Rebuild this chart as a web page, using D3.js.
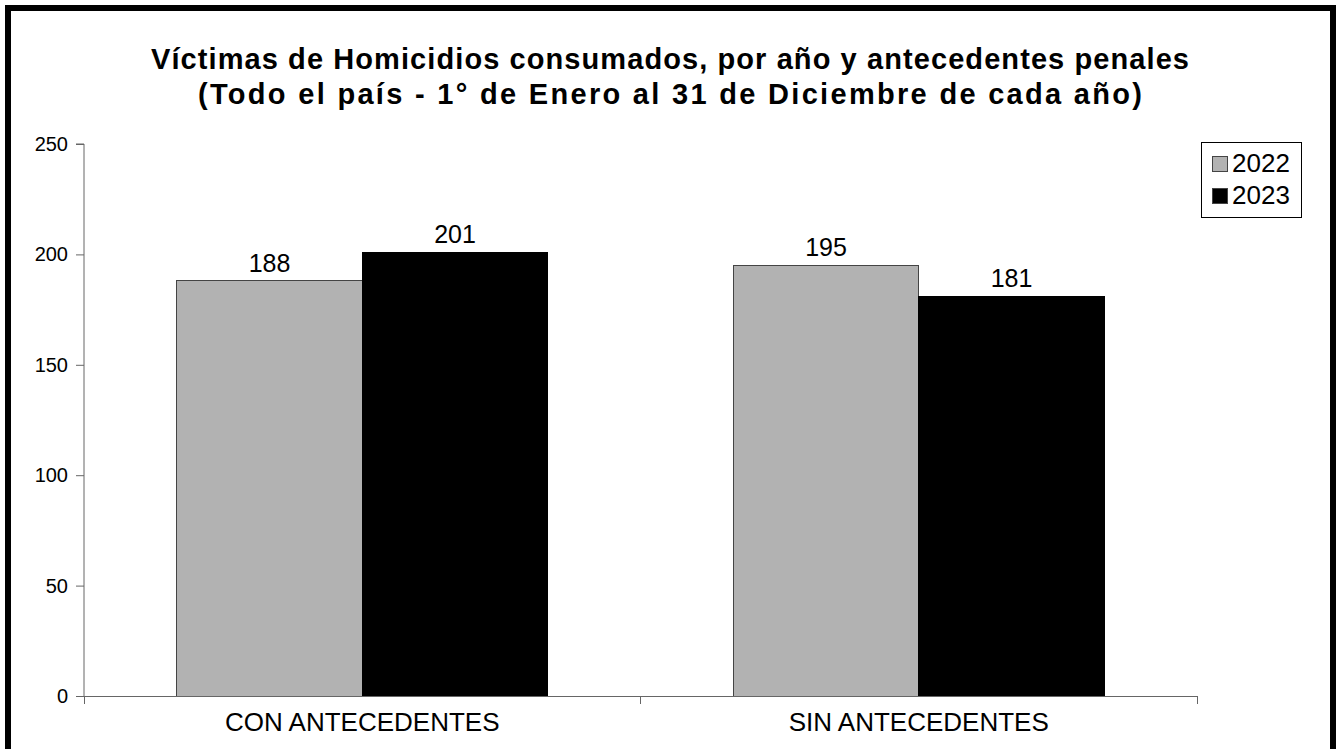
<!DOCTYPE html>
<html>
<head>
<meta charset="utf-8">
<script src="https://cdn.jsdelivr.net/npm/d3@7"></script>
<style>
  html, body { margin: 0; padding: 0; background: #fff; }
  svg { display: block; font-family: "Liberation Sans", Arial, sans-serif; }
</style>
</head>
<body>
<svg id="chart" width="1338" height="749"></svg>
<script>
const titleLines = [
  "Víctimas de Homicidios consumados, por año y antecedentes penales",
  "(Todo el país - 1° de Enero al 31 de Diciembre de cada año)"
];
const categories = ["CON ANTECEDENTES", "SIN ANTECEDENTES"];
const seriesNames = ["2022", "2023"];
const values2022 = [188, 195];
const values2023 = [201, 181];
const yTicks = [0, 50, 100, 150, 200, 250];
const seriesColors = ["#b2b2b2", "#000000"];

(function () {
const svg = d3.select("#chart");

// outer frame
svg.append("rect")
  .attr("x", 8).attr("y", 8)
  .attr("width", 1325).attr("height", 744)
  .attr("fill", "none").attr("stroke", "#000").attr("stroke-width", 6);

// title
const titleWidths = [1038, 944];
titleLines.forEach((t, i) => {
  svg.append("text")
    .attr("x", 670).attr("y", 69 + i * 35)
    .attr("text-anchor", "middle")
    .attr("font-weight", "bold")
    .attr("font-size", 29)
    .attr("fill", "#000")
    .attr("textLength", titleWidths[i])
    .attr("lengthAdjust", "spacing")
    .text(t);
});

const pLeft = 84, pRight = 1197, pTop = 144, pBottom = 696;

const x0 = d3.scaleBand().domain(categories).range([pLeft, pRight]).paddingInner(0).paddingOuter(0);
const x1 = d3.scaleBand().domain(seriesNames).range([0, x0.bandwidth()]).paddingInner(0).paddingOuter(0.5);
const y = d3.scaleLinear().domain([0, 250]).range([pBottom, pTop]);

const data = categories.map((c, i) => ({ cat: c, vals: [values2022[i], values2023[i]] }));

// bars
const groups = svg.append("g").selectAll("g").data(data).join("g")
  .attr("transform", d => `translate(${x0(d.cat)},0)`);

groups.selectAll("rect").data(d => d.vals.map((v, j) => ({ v, s: seriesNames[j], j })))
  .join("rect")
  .attr("x", d => x1(d.s))
  .attr("y", d => y(d.v))
  .attr("width", x1.bandwidth())
  .attr("height", d => y(0) - y(d.v))
  .attr("fill", d => seriesColors[d.j])
  .attr("stroke", d => d.j === 0 ? "#444" : "#000")
  .attr("stroke-width", 1)
  .attr("shape-rendering", "crispEdges");

groups.selectAll("text.val").data(d => d.vals.map((v, j) => ({ v, s: seriesNames[j], j })))
  .join("text")
  .attr("class", "val")
  .attr("x", d => x1(d.s) + x1.bandwidth() / 2)
  .attr("y", d => y(d.v) - 9)
  .attr("text-anchor", "middle")
  .attr("font-size", 25)
  .attr("fill", "#000")
  .text(d => d.v);

// y axis
const yAxis = d3.axisLeft(y).tickValues(yTicks).tickSize(8).tickPadding(8).tickFormat(d3.format("d"));
const gy = svg.append("g").attr("transform", `translate(${pLeft},0)`).call(yAxis);
gy.select(".domain").attr("stroke", "#666").attr("d", `M-8,${pTop}H0V${pBottom}`);
gy.selectAll(".tick line").attr("stroke", "#666");
gy.selectAll(".tick text").attr("font-size", 20).attr("font-family", "Liberation Sans, Arial, sans-serif").attr("fill", "#000");

// x axis
const gx = svg.append("g").attr("transform", `translate(0,${pBottom})`);
gx.append("line").attr("x1", pLeft).attr("x2", pRight).attr("y1", 0).attr("y2", 0)
  .attr("stroke", "#666").attr("shape-rendering", "crispEdges");
const boundaries = categories.map(c => x0(c)).concat([x0(categories[categories.length - 1]) + x0.bandwidth()]);
gx.selectAll("line.tk").data(boundaries).join("line").attr("class", "tk")
  .attr("x1", d => d).attr("x2", d => d).attr("y1", 0).attr("y2", 8)
  .attr("stroke", "#666").attr("shape-rendering", "crispEdges");
gx.selectAll("text").data(categories).join("text")
  .attr("x", d => x0(d) + x0.bandwidth() / 2)
  .attr("y", 35)
  .attr("text-anchor", "middle")
  .attr("font-size", 26)
  .attr("fill", "#000")
  .text(d => d);

// legend
const lg = svg.append("g");
lg.append("rect").attr("x", 1201.5).attr("y", 142.5).attr("width", 100).attr("height", 75)
  .attr("fill", "#fff").attr("stroke", "#000").attr("stroke-width", 1);
seriesNames.forEach((s, i) => {
  lg.append("rect").attr("x", 1212.5).attr("y", 156.5 + i * 32).attr("width", 15).attr("height", 15)
    .attr("fill", seriesColors[i]).attr("stroke", "#444").attr("stroke-width", 1);
  lg.append("text").attr("x", 1232).attr("y", 172 + i * 32)
    .attr("font-size", 26).attr("fill", "#000").text(s);
});
})();
</script>
</body>
</html>
